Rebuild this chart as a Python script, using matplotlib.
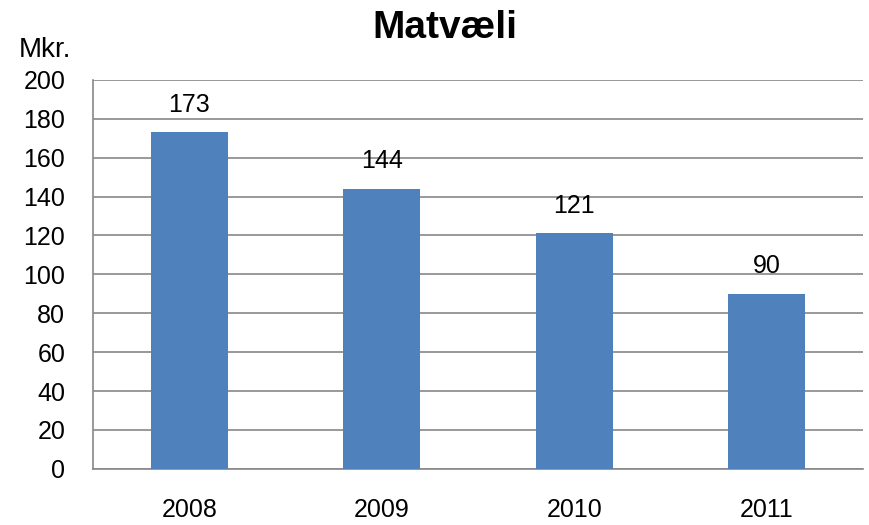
import numpy as np
import matplotlib.pyplot as plt

years = ["2008", "2009", "2010", "2011"]
values = [173, 144, 121, 90]

plt.rcParams['font.family'] = ['Liberation Sans', 'DejaVu Sans']

fig = plt.figure(figsize=(8.7, 5.25), dpi=100)
ax = fig.add_axes([0.107, 0.107, 0.885, 0.741])

x = np.arange(len(years))
ax.bar(x, values, width=0.4, color="#4F81BD", zorder=3)
for xi, v in zip(x, values):
    ax.annotate(str(v), (xi, v), xytext=(0, 11), textcoords="offset points",
                ha="center", va="bottom", fontsize=18)

ax.set_xlim(-0.5, len(years) - 0.5)
ax.set_ylim(0, 200)
ax.set_yticks(range(0, 201, 20))
ax.set_xticks(x)
ax.set_xticklabels(years)
ax.tick_params(axis="both", labelsize=18, length=0)
ax.tick_params(axis="x", pad=21)
ax.tick_params(axis="y", pad=20)
ax.grid(axis="y", color="#888888", linewidth=1.2, zorder=0)

for s in ["top", "right"]:
    ax.spines[s].set_visible(False)
for s in ["left", "bottom"]:
    ax.spines[s].set_color("#888888")
    ax.spines[s].set_linewidth(1.2)

fig.text(0.511, 0.928, "Matvæli", ha="center", va="baseline", fontsize=28, fontweight="bold")
fig.text(0.021, 0.891, "Mkr.", ha="left", va="baseline", fontsize=20)

fig.savefig("out.png", dpi=100)
